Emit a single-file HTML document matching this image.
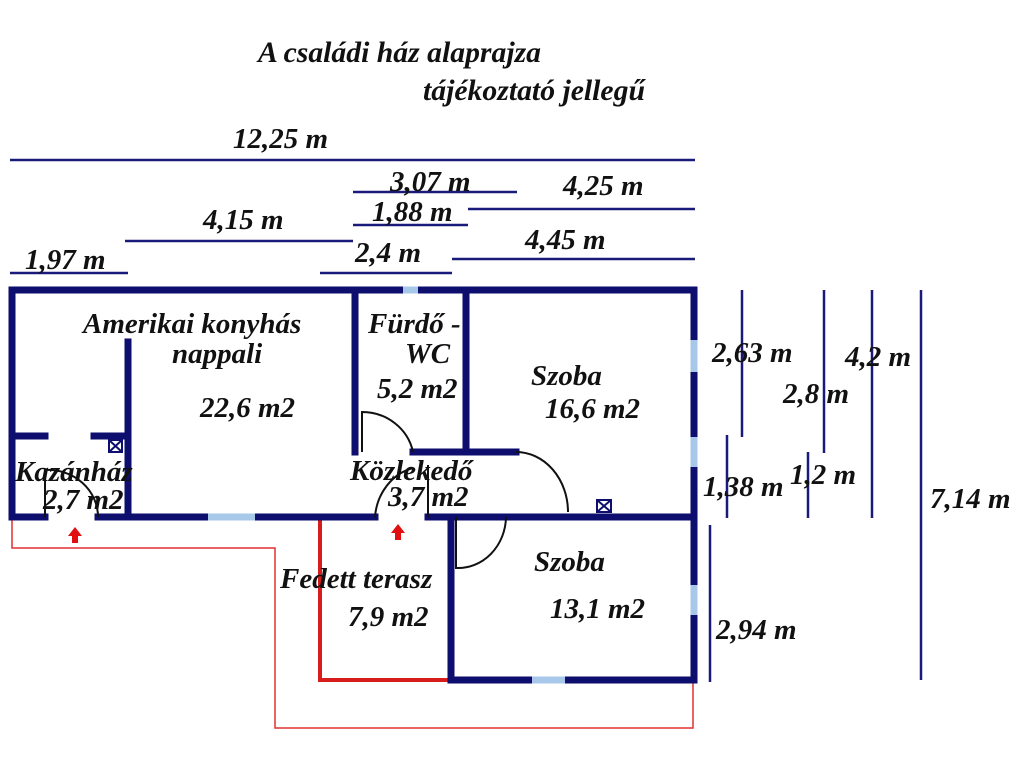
<!DOCTYPE html>
<html><head><meta charset="utf-8"><style>
html,body{margin:0;padding:0;background:#fff;}
svg{display:block}
text{font-family:"Liberation Serif",serif;font-weight:bold;font-style:italic;fill:#111;}
</style></head><body>
<svg width="1024" height="768" viewBox="0 0 1024 768">
<rect width="1024" height="768" fill="#fff"/>
<text x="258" y="62" font-size="30" textLength="283" lengthAdjust="spacingAndGlyphs">A családi ház alaprajza</text>
<text x="423" y="100" font-size="30" textLength="222" lengthAdjust="spacingAndGlyphs">tájékoztató jellegű</text>

<g stroke="#1a1a7a" stroke-width="2.5">
<line x1="10" y1="160" x2="695" y2="160"/>
<line x1="353" y1="192" x2="517" y2="192"/>
<line x1="468" y1="209" x2="695" y2="209"/>
<line x1="353" y1="225" x2="468" y2="225"/>
<line x1="125" y1="241" x2="353" y2="241"/>
<line x1="452" y1="259" x2="695" y2="259"/>
<line x1="320" y1="273" x2="452" y2="273"/>
<line x1="10" y1="273" x2="128" y2="273"/>
<line x1="742" y1="290" x2="742" y2="437"/>
<line x1="727" y1="435" x2="727" y2="518"/>
<line x1="824" y1="290" x2="824" y2="453"/>
<line x1="808" y1="452" x2="808" y2="518"/>
<line x1="872" y1="290" x2="872" y2="518"/>
<line x1="921" y1="290" x2="921" y2="680"/>
<line x1="710" y1="525" x2="710" y2="682"/>
</g>
<g font-size="29">
<text x="233" y="148">12,25 m</text>
<text x="390" y="191">3,07 m</text>
<text x="563" y="195">4,25 m</text>
<text x="372" y="221">1,88 m</text>
<text x="203" y="229">4,15 m</text>
<text x="525" y="249">4,45 m</text>
<text x="355" y="262">2,4 m</text>
<text x="25" y="269">1,97 m</text>
<text x="712" y="362">2,63 m</text>
<text x="845" y="366">4,2 m</text>
<text x="783" y="403">2,8 m</text>
<text x="703" y="496">1,38 m</text>
<text x="790" y="484">1,2 m</text>
<text x="930" y="508">7,14 m</text>
<text x="716" y="639">2,94 m</text>
</g>

<polyline points="12,519 12,548 275,548 275,728 693,728 693,682" fill="none" stroke="#e03030" stroke-width="1.5"/>
<polyline points="320,519 320,680 451,680" fill="none" stroke="#d81c1c" stroke-width="4"/>
<g fill="#e01010">
<polygon points="75,527 68,536 72,536 72,543 78,543 78,536 82,536"/>
<polygon points="398,524 391,533 395,533 395,540 401,540 401,533 405,533"/>
</g>

<g stroke="#0e0e6e" stroke-width="7" stroke-linecap="square" fill="none">
<line x1="12" y1="290" x2="694" y2="290"/>
<line x1="12" y1="290" x2="12" y2="517"/>
<line x1="694" y1="290" x2="694" y2="680"/>
<line x1="12" y1="517" x2="45" y2="517"/>
<line x1="98" y1="517" x2="375" y2="517"/>
<line x1="428" y1="517" x2="694" y2="517"/>
<line x1="128" y1="342" x2="128" y2="517"/>
<line x1="15" y1="436" x2="45" y2="436"/>
<line x1="94" y1="436" x2="128" y2="436"/>
<line x1="355" y1="290" x2="355" y2="452"/>
<line x1="466" y1="290" x2="466" y2="452"/>
<line x1="413" y1="452" x2="516" y2="452"/>
<line x1="451" y1="517" x2="451" y2="680"/>
<line x1="451" y1="680" x2="694" y2="680"/>
</g>
<g stroke="#a8c8ea" stroke-width="7">
<line x1="403" y1="290" x2="418" y2="290"/>
<line x1="208" y1="517" x2="255" y2="517"/>
<line x1="532" y1="680" x2="565" y2="680"/>
<line x1="694" y1="340" x2="694" y2="372"/>
<line x1="694" y1="437" x2="694" y2="467"/>
<line x1="694" y1="585" x2="694" y2="615"/>
</g>
<g stroke="#111" stroke-width="2" fill="none">
<path d="M45 517 V470 A50 47 0 0 1 98 517"/>
<path d="M362 452 V412 A52 50 0 0 1 413 452"/>
<path d="M375 517 A50 55 0 0 1 413 468 M428 465 V517"/>
<path d="M516 452 A52 60 0 0 1 568 512"/>
<path d="M456 517 V568 A48 52 0 0 0 506 517"/>
</g>
<g stroke="#0e0e6e" stroke-width="2" fill="none">
<rect x="109" y="440" width="13" height="12"/><path d="M109 440 L122 452 M122 440 L109 452"/>
<rect x="597" y="500" width="14" height="12"/><path d="M597 500 L611 512 M611 500 L597 512"/>
</g>

<g font-size="29">
<text x="83" y="333">Amerikai konyhás</text>
<text x="172" y="363">nappali</text>
<text x="200" y="417">22,6 m2</text>
<text x="368" y="333">Fürdő -</text>
<text x="405" y="363">WC</text>
<text x="377" y="398">5,2 m2</text>
<text x="531" y="385">Szoba</text>
<text x="545" y="418">16,6 m2</text>
<text x="15" y="481">Kazánház</text>
<text x="43" y="509">2,7 m2</text>
<text x="350" y="480">Közlekedő</text>
<text x="388" y="506" fill="#555">3,7 m2</text>
<text x="534" y="571">Szoba</text>
<text x="550" y="618">13,1 m2</text>
<text x="280" y="588">Fedett terasz</text>
<text x="348" y="626">7,9 m2</text>
</g>
</svg>
</body></html>
